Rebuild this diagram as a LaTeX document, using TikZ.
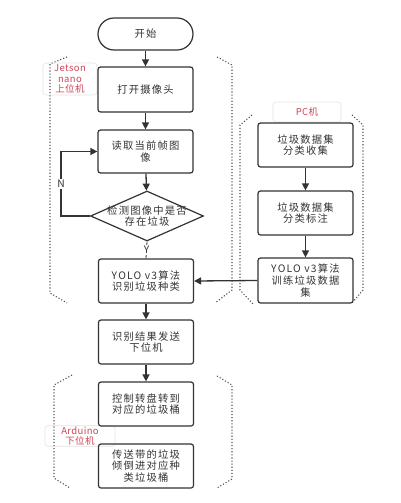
\documentclass[tikz,border=0pt]{standalone}
\usepackage{fontspec}
\setmainfont{Noto Sans CJK SC}
\newfontfamily\boxfamily[LetterSpace=12]{Noto Sans CJK SC}
\newfontfamily\tagfamily[LetterSpace=4]{Noto Sans CJK SC}
\usetikzlibrary{shapes.geometric,arrows.meta}
\definecolor{ink}{HTML}{333333}
\definecolor{lbl}{HTML}{D0455A}
\newcommand\boxfnt{\boxfamily\fontsize{10.3}{11.8}\selectfont}
\newcommand\tagfnt{\tagfamily\fontsize{9.5}{10.2}\selectfont}
\tikzset{
 box/.style={draw=ink, line width=1.2pt, rounded corners=2.5pt, minimum width=95pt, minimum height=44pt, align=center, text=ink, font=\boxfnt, inner sep=1pt},
 flow/.style={draw=ink, line width=1.3pt, -{Triangle[length=7pt,width=7pt]}},
 thinline/.style={draw=ink, line width=0.8pt},
 bracket/.style={draw=ink!85, dotted, line width=1.1pt},
 tag/.style={draw=gray!22, line width=0.6pt, rounded corners=3pt, text=lbl, align=center, font=\tagfnt, inner sep=1pt},
 yn/.style={fill=white, text=ink, font=\boxfnt, inner sep=1pt}
}
\begin{document}
\begin{tikzpicture}[x=1pt,y=-1pt]
\useasboundingbox[fill=white] (0,0) rectangle (400,503);
% dotted brackets
\draw[bracket] (67,57) -- (50,64) -- (50,293) -- (67,303);
\draw[bracket] (217,57) -- (232,65) -- (232,290) -- (215,303);
\draw[bracket] (252,115) -- (240,125) -- (240,290) -- (253,304);
\draw[bracket] (352,115) -- (363,125) -- (363,290) -- (352,303);
\draw[bracket] (72,375) -- (54,385) -- (54,478) -- (70,488);
\draw[bracket] (217,376) -- (232,385) -- (232,479) -- (217,488);
% tags
\node[tag, minimum width=54pt, minimum height=32pt] (tj) at (70,79) {Jetson\\nano\\上位机};
\node[tag, minimum width=68pt, minimum height=20pt] (tp) at (307,112) {PC机};
\node[tag, minimum width=70pt, minimum height=18pt] (ta) at (80,436) {Arduino\\下位机};
% main column
\node[box, rounded corners=16pt, minimum height=32pt] (s) at (145.5,34) {开始};
\node[box, minimum height=45pt] (b1) at (145.5,89.5) {打开摄像头};
\node[box, minimum height=43pt] (b2) at (145.5,151.5) {读取当前帧图\\像};
\node[diamond, draw=ink, line width=1.2pt, minimum width=113pt, minimum height=50pt, inner sep=0pt] (d) at (147,216) {};
\node[text=ink, font=\boxfnt, align=center] (dt) at (d.center) {检测图像中是否\\存在垃圾};
\node[box] (b3) at (146,281) {YOLO v3算法\\识别垃圾种类};
\node[box] (b4) at (146,342) {识别结果发送\\下位机};
\node[box] (b5) at (146,404) {控制转盘转到\\对应的垃圾桶};
\node[box] (b6) at (146,466) {传送带的垃圾\\倾倒进对应种\\类垃圾桶};
% PC column
\node[box] (p1) at (305.5,145) {垃圾数据集\\分类收集};
\node[box] (p2) at (305.5,213) {垃圾数据集\\分类标注};
\node[box, minimum height=45pt] (p3) at (305.5,280.5) {YOLO v3算法\\训练垃圾数据\\集};
% connectors
\draw[flow] (s) -- (b1);
\draw[flow] (b1) -- (b2);
\draw[flow] (b2) -- (d);
\draw[thinline] (d.south) -- (b3.north) node[yn, pos=0.5] (yl) {Y};
\draw[flow] (b3) -- (b4);
\draw[flow] (b4) -- (b5);
\draw[flow] (p1) -- (p2);
\draw[flow] (p2) -- (p3);
\draw[flow] (p3.west) -- (b3.east);
\coordinate (nl) at (61,216);
\draw[flow] (d.west) -- (nl) |- (b2.west);
\node[yn] (nlab) at (61,184) {N};
\end{tikzpicture}
\end{document}
